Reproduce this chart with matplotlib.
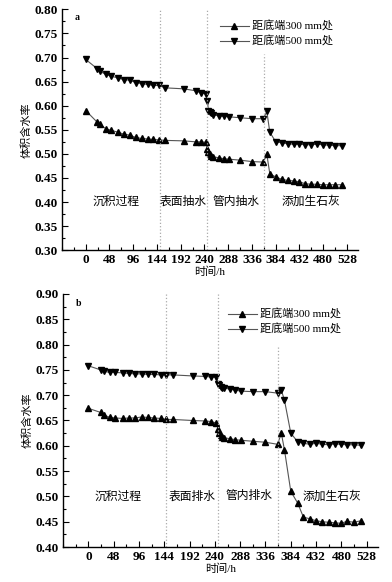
import matplotlib
matplotlib.use("Agg")
import matplotlib.pyplot as plt
from matplotlib.ticker import MultipleLocator

plt.rcParams['font.family'] = ['Liberation Serif', 'Noto Sans CJK SC']

# sampling times (h), shared by both panels
hours = [0, 23, 29, 41, 51, 65, 77, 89, 101, 113, 125, 137, 148, 161, 198, 222, 232, 243,
         246, 248, 251, 254, 257, 269, 279, 289, 312, 336, 359,
         366, 372, 384,
         397, 408, 420, 432, 444, 456, 467, 479, 491, 504, 517]

# panel a
a_300 = [0.590, 0.566, 0.561, 0.552, 0.549, 0.545, 0.541, 0.539, 0.534, 0.532, 0.531, 0.530, 0.529, 0.528, 0.527, 0.525, 0.525, 0.524,
         0.511, 0.504, 0.499, 0.495, 0.494, 0.492, 0.490, 0.489, 0.487, 0.484, 0.483,
         0.499, 0.459, 0.452,
         0.447, 0.445, 0.444, 0.442, 0.438, 0.437, 0.437, 0.436, 0.436, 0.436, 0.436]
a_500 = [0.696, 0.677, 0.671, 0.665, 0.661, 0.658, 0.654, 0.653, 0.648, 0.646, 0.644, 0.642, 0.642, 0.637, 0.635, 0.631, 0.627, 0.625,
         0.610, 0.590, 0.587, 0.584, 0.581, 0.579, 0.578, 0.577, 0.575, 0.573, 0.573,
         0.588, 0.545, 0.525,
         0.523, 0.521, 0.520, 0.520, 0.519, 0.519, 0.520, 0.519, 0.518, 0.517, 0.517]

# panel b
b_300 = [0.674, 0.666, 0.661, 0.656, 0.655, 0.654, 0.655, 0.655, 0.657, 0.656, 0.655, 0.654, 0.652, 0.652, 0.650, 0.649, 0.648, 0.645,
         0.633, 0.625, 0.621, 0.618, 0.616, 0.614, 0.612, 0.611, 0.609, 0.607, 0.603,
         0.625, 0.592, 0.510,
         0.487, 0.459, 0.456, 0.452, 0.450, 0.449, 0.448, 0.447, 0.451, 0.449, 0.452]
b_500 = [0.758, 0.750, 0.747, 0.745, 0.745, 0.744, 0.743, 0.742, 0.742, 0.741, 0.741, 0.740, 0.740, 0.740, 0.738, 0.737, 0.736, 0.735,
         0.723, 0.720, 0.717, 0.715, 0.714, 0.712, 0.710, 0.708, 0.707, 0.707, 0.704,
         0.710, 0.690, 0.625,
         0.608, 0.605, 0.603, 0.605, 0.603, 0.602, 0.604, 0.603, 0.602, 0.602, 0.601]

labels = ['距底端300 mm处', '距底端500 mm处']
stages_a = ['沉积过程', '表面抽水', '管内抽水', '添加生石灰']
stages_b = ['沉积过程', '表面排水', '管内排水', '添加生石灰']
stage_x_a = [62, 196, 304, 455]
stage_x_b = [56, 196, 305, 463]
bounds_a = [150, 245, 360]
bounds_b = [148, 246, 360]


def panel(ax, y300, y500, ylim, stages, stage_x, stage_y, bounds, top3, tag, tag_y, leg_xy):
    ax.plot(hours, y300, color='#555555', lw=0.8, marker='^', ms=5,
            mfc='black', mec='black', label=labels[0])
    ax.plot(hours, y500, color='#555555', lw=0.8, marker='v', ms=5,
            mfc='black', mec='black', label=labels[1])
    for i, b in enumerate(bounds):
        ymax = 1 if i < 2 else (top3 - ylim[0]) / (ylim[1] - ylim[0])
        ax.axvline(b, ymax=ymax, color='#aaaaaa', lw=0.9, ls=':')
    for s, x in zip(stages, stage_x):
        ax.text(x, stage_y, s, ha='center', va='center', fontsize=8.5)
    ax.text(-18, tag_y, tag, fontsize=7, fontweight='bold', ha='center', va='center')
    ax.set_xlim(-48, 550)
    ax.set_ylim(*ylim)
    ax.set_xticks(range(0, 529, 48))
    ax.xaxis.set_minor_locator(MultipleLocator(24))
    ax.yaxis.set_major_locator(MultipleLocator(0.05))
    ax.yaxis.set_minor_locator(MultipleLocator(0.025))
    ax.yaxis.set_major_formatter(plt.FormatStrFormatter('%.2f'))
    ax.tick_params(which='both', direction='in', width=0.8)
    ax.tick_params(which='major', length=4, labelsize=9.5, pad=3)
    ax.tick_params(which='minor', length=2)
    plt.setp(ax.get_xticklabels(), fontweight='bold')
    plt.setp(ax.get_yticklabels(), fontweight='bold')
    for sp in ['top', 'right']:
        ax.spines[sp].set_visible(False)
    for sp in ['left', 'bottom']:
        ax.spines[sp].set_linewidth(1.0)
    ax.set_xlabel('时间/h', fontsize=8, labelpad=0)
    ax.set_ylabel('体积含水率', fontsize=8, labelpad=2)
    ax.legend(loc='upper left', bbox_to_anchor=leg_xy, frameon=False, fontsize=8,
              handlelength=2.6, handletextpad=0.3, labelspacing=0.35, borderpad=0)


fig = plt.figure(figsize=(3.92, 5.82), dpi=100)
ax1 = fig.add_axes([0.158, 0.570, 0.755, 0.414])
ax2 = fig.add_axes([0.161, 0.060, 0.804, 0.435])

panel(ax1, a_300, a_500, (0.30, 0.80), stages_a, stage_x_a, 0.40, bounds_a, 0.708, 'a', 0.783, (0.515, 0.975))
panel(ax2, b_300, b_500, (0.40, 0.90), stages_b, stage_x_b, 0.50, bounds_b, 0.80, 'b', 0.882, (0.505, 0.965))

fig.savefig('out.png', dpi=100)
